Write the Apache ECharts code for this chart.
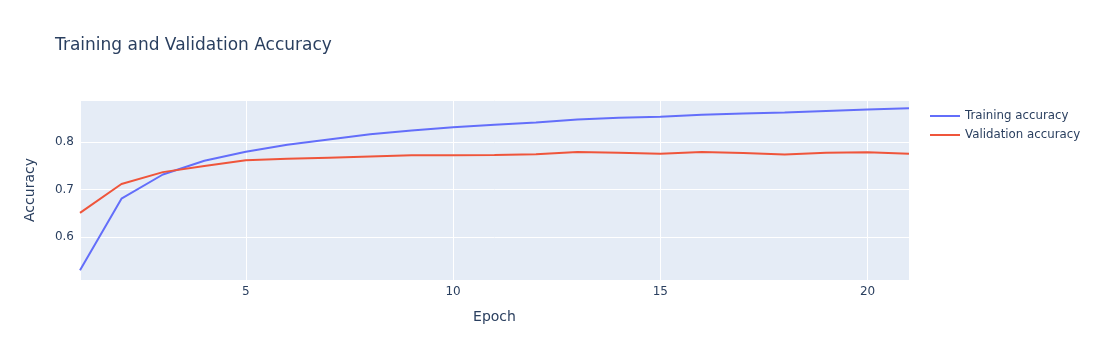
<!DOCTYPE html>
<html><head><meta charset="utf-8">
<script src="https://cdn.jsdelivr.net/npm/echarts@6/dist/echarts.min.js"></script>
<style>html,body{margin:0;padding:0;background:#fff}#c{width:1101px;height:360px}</style>
</head><body><div id="c"></div>
<script>
const epochs = [1,2,3,4,5,6,7,8,9,10,11,12,13,14,15,16,17,18,19,20,21];
const trainingAccuracy = [0.530,0.681,0.732,0.761,0.780,0.795,0.806,0.817,0.825,0.832,0.837,0.842,0.848,0.852,0.854,0.858,0.861,0.863,0.866,0.869,0.872];
const validationAccuracy = [0.651,0.712,0.737,0.750,0.762,0.765,0.7675,0.770,0.7725,0.7725,0.773,0.7745,0.7795,0.778,0.776,0.7795,0.7775,0.774,0.778,0.779,0.776];
const seriesNames = ['Training accuracy','Validation accuracy'];
const font = '"DejaVu Sans", verdana, sans-serif';
const txt = '#2a3f5f';
const chart = echarts.init(document.getElementById('c'), null, {renderer:'canvas'});
chart.setOption({
  animation:false,
  backgroundColor:'#fff',
  title:{text:'Training and Validation Accuracy', left:50, top:32,
    textStyle:{fontFamily:font, fontSize:17, fontWeight:'normal', color:txt}},
  legend:{orient:'vertical', left:925, top:104, itemWidth:30, itemHeight:2, itemGap:5,
    icon:'rect',
    textStyle:{fontFamily:font, fontSize:11.8, color:txt, lineHeight:14}, data:seriesNames},
  grid:{left:80, right:192, top:100, bottom:80, show:true, backgroundColor:'#E5ECF6', borderWidth:0},
  xAxis:{type:'value', min:1, max:21, splitNumber:4,
    name:'Epoch', nameLocation:'middle', nameGap:30,
    nameTextStyle:{fontFamily:font, fontSize:14, color:txt},
    axisLine:{show:false}, axisTick:{show:false},
    axisLabel:{fontFamily:font, fontSize:12, color:txt, margin:6, showMinLabel:false, showMaxLabel:false},
    splitLine:{lineStyle:{color:'#fff', width:1}}},
  yAxis:{type:'value', min:0.5092, max:0.8893, splitNumber:4,
    name:'Accuracy', nameLocation:'middle', nameGap:43,
    nameTextStyle:{fontFamily:font, fontSize:14, color:txt},
    axisLine:{show:false}, axisTick:{show:false},
    axisLabel:{fontFamily:font, fontSize:12, color:txt, margin:6, showMinLabel:false, showMaxLabel:false,
      formatter:v=>v.toFixed(1)},
    splitLine:{lineStyle:{color:'#fff', width:1}}},
  series:[
    {name:seriesNames[0], type:'line', data:epochs.map((e,i)=>[e,trainingAccuracy[i]]),
      showSymbol:false, symbol:'none', lineStyle:{color:'#636efa', width:2}, itemStyle:{color:'#636efa'}},
    {name:seriesNames[1], type:'line', data:epochs.map((e,i)=>[e,validationAccuracy[i]]),
      showSymbol:false, symbol:'none', lineStyle:{color:'#EF553B', width:2}, itemStyle:{color:'#EF553B'}}
  ]
});
</script></body></html>
